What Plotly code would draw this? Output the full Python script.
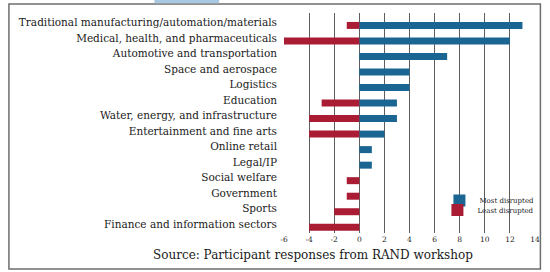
import plotly.graph_objects as go

categories = [
    "Traditional manufacturing/automation/materials",
    "Medical, health, and pharmaceuticals",
    "Automotive and transportation",
    "Space and aerospace",
    "Logistics",
    "Education",
    "Water, energy, and infrastructure",
    "Entertainment and fine arts",
    "Online retail",
    "Legal/IP",
    "Social welfare",
    "Government",
    "Sports",
    "Finance and information sectors",
]
most_disrupted = [13, 12, 7, 4, 4, 3, 3, 2, 1, 1, 0, 0, 0, 0]
least_disrupted = [-1, -6, 0, 0, 0, -3, -4, -4, 0, 0, -1, -1, -2, -4]
x_tickvals = [-6, -4, -2, 0, 2, 4, 6, 8, 10, 12, 14]
x_ticktext = ["-6", "-4", "-2", "0", "2", "4", "6", "8", "10", "12", "14"]
source_text = "Source: Participant responses from RAND workshop"

W, H = 550, 272
ML, MR, MT, MB = 284, 10.5, 13, 39
serif = "DejaVu Serif"
BLUE = "#1b6593"
RED = "#a91c34"
GRID = "#5e5e5e"

ypos = list(range(len(categories)))

fig = go.Figure()
fig.add_trace(go.Bar(
    y=ypos, x=most_disrupted, orientation="h", name="Most disrupted",
    marker=dict(color=BLUE, line=dict(width=0)), width=0.45, legend="legend",
))
fig.add_trace(go.Bar(
    y=ypos, x=least_disrupted, orientation="h", name="Least disrupted",
    marker=dict(color=RED, line=dict(width=0)), width=0.45, legend="legend2",
))

pw = W - ML - MR
ph = H - MT - MB
def px(xp):
    return (xp - ML) / pw
def py(yp):
    return 1 - (yp - MT) / ph

leg_common = dict(
    xanchor="right", yanchor="middle",
    font=dict(family=serif, size=7, color="#222"),
    bgcolor="rgba(0,0,0,0)", itemwidth=30, borderwidth=0,
)

fig.update_layout(
    width=W, height=H,
    margin=dict(l=ML, r=MR, t=MT, b=MB, pad=0),
    barmode="relative",
    paper_bgcolor="white", plot_bgcolor="rgba(0,0,0,0)",
    showlegend=True,
    legend=dict(x=px(544), y=py(200.5), **leg_common),
    legend2=dict(x=px(544), y=py(210), **leg_common),
    xaxis=dict(
        range=[-6, 14], tickmode="array", tickvals=x_tickvals, ticktext=x_ticktext,
        showgrid=True, gridcolor=GRID, gridwidth=1,
        zeroline=True, zerolinecolor=GRID, zerolinewidth=1,
        showline=False, ticks="",
        tickfont=dict(family=serif, size=7.5, color="#222"),
        fixedrange=True, automargin=False,
    ),
    yaxis=dict(
        range=[13.37, -0.8], tickmode="array", tickvals=ypos, ticktext=categories,
        showgrid=False, zeroline=False, showline=False, ticks="",
        ticklabelstandoff=6, ticklabelshift=3,
        tickfont=dict(family=serif, size=10.5, color="#1a1a1a"),
        fixedrange=True, automargin=False,
    ),
    shapes=[
        dict(type="rect", xref="paper", yref="paper",
             x0=px(466), x1=px(537), y0=py(218), y1=py(190),
             line=dict(width=0), fillcolor="white", layer="between"),
        dict(type="rect", xref="paper", yref="paper",
             x0=px(4), x1=px(545), y0=py(269), y1=py(4),
             line=dict(color="#6e6e6e", width=1.5), fillcolor="rgba(0,0,0,0)",
             layer="above"),
        dict(type="rect", xref="paper", yref="paper",
             x0=px(152), x1=px(218), y0=py(3.3), y1=py(-2),
             line=dict(width=0), fillcolor="#a9c8e2", layer="above"),
    ],
    annotations=[
        dict(text=source_text, xref="paper", yref="paper",
             x=px(314), y=py(255), xanchor="center", yanchor="middle",
             showarrow=False, font=dict(family=serif, size=12, color="#1a1a1a")),
    ],
)

fig.write_html("out.html")
